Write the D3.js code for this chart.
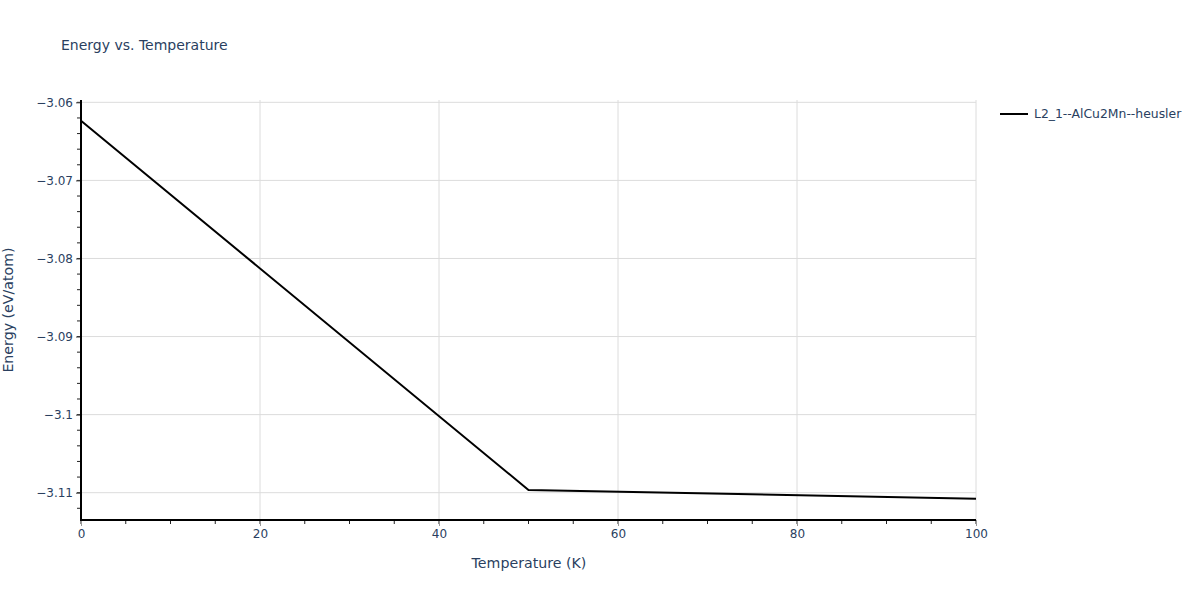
<!DOCTYPE html>
<html>
<head>
<meta charset="utf-8">
<script src="https://cdn.jsdelivr.net/npm/d3@7"></script>
<style>
  body { margin: 0; background: #fff; }
  text { font-family: "DejaVu Sans", verdana, sans-serif; fill: #2a3f5f; }
</style>
</head>
<body>
<svg width="1200" height="600"></svg>
<script>
// data
var temps = [0, 50, 100];
var energies = [-3.06236, -3.10965, -3.11077];
var seriesName = "L2_1--AlCu2Mn--heusler";
var xTicks = [0, 20, 40, 60, 80, 100];
var yTicks = [-3.06, -3.07, -3.08, -3.09, -3.1, -3.11];

var svg = d3.select("svg");

var xScale = d3.scaleLinear().domain([0, 100]).range([81, 976]);
var yScale = d3.scaleLinear().domain([-3.1135, -3.0597]).range([520, 100]);

var fmtY = function (d) { return String(d).replace("-", "\u2212"); };

// grid
svg.append("g").selectAll("line.xgrid").data(xTicks).enter().append("line")
    .attr("x1", d => xScale(d)).attr("x2", d => xScale(d))
    .attr("y1", 100).attr("y2", 520)
    .style("stroke", "#dcdcdc").style("stroke-width", 1);
svg.append("g").selectAll("line.ygrid").data(yTicks).enter().append("line")
    .attr("x1", 81).attr("x2", 976)
    .attr("y1", d => yScale(d)).attr("y2", d => yScale(d))
    .style("stroke", "#dcdcdc").style("stroke-width", 1);

// minor ticks
var xMinor = d3.range(0, 101, 5);
var yMinor = d3.range(-3.112, -3.0599, 0.002);
svg.append("g").selectAll("line").data(xMinor).enter().append("line")
    .attr("x1", d => xScale(d)).attr("x2", d => xScale(d))
    .attr("y1", 520).attr("y2", 524)
    .style("stroke", "#222").style("stroke-width", 1);
svg.append("g").selectAll("line").data(yMinor).enter().append("line")
    .attr("x1", 77).attr("x2", 81)
    .attr("y1", d => yScale(d)).attr("y2", d => yScale(d))
    .style("stroke", "#222").style("stroke-width", 1);

// axes
var xAxis = d3.axisBottom(xScale).tickValues(xTicks).tickSize(6).tickPadding(3);
var xG = svg.append("g").attr("transform", "translate(0,520)").call(xAxis);
xG.select(".domain").remove();
xG.selectAll(".tick line").style("stroke", "#999");
xG.selectAll(".tick text").style("font-size", "12px").style("fill", "#2a3f5f");

var yAxis = d3.axisLeft(yScale).tickValues(yTicks).tickFormat(fmtY).tickSize(5).tickPadding(3);
var yG = svg.append("g").attr("transform", "translate(81,0)").call(yAxis);
yG.select(".domain").remove();
yG.selectAll(".tick line").style("stroke", "#444");
yG.selectAll(".tick text").style("font-size", "12px").style("fill", "#2a3f5f");

svg.append("line").attr("x1", 81).attr("x2", 976).attr("y1", 520).attr("y2", 520)
    .style("stroke", "#000").style("stroke-width", 2);
svg.append("line").attr("x1", 81).attr("x2", 81).attr("y1", 100).attr("y2", 521)
    .style("stroke", "#000").style("stroke-width", 2);

// series
var line = d3.line().x((d, i) => xScale(temps[i])).y(d => yScale(d));
svg.append("path").datum(energies).attr("d", line)
    .style("fill", "none").style("stroke", "#000").style("stroke-width", 2);

// titles
svg.append("text").attr("x", 61).attr("y", 50).text("Energy vs. Temperature")
    .style("font-size", "14px");
svg.append("text").attr("x", 529).attr("y", 568).attr("text-anchor", "middle")
    .text("Temperature (K)").style("font-size", "14.2px");
svg.append("text").attr("transform", "translate(13,310) rotate(-90)")
    .attr("text-anchor", "middle").text("Energy (eV/atom)").style("font-size", "14.2px");

// legend
svg.append("line").attr("x1", 1000).attr("x2", 1028).attr("y1", 114).attr("y2", 114)
    .style("stroke", "#000").style("stroke-width", 2);
svg.append("text").attr("x", 1034).attr("y", 118).text(seriesName).style("font-size", "12.4px");
</script>
</body>
</html>
